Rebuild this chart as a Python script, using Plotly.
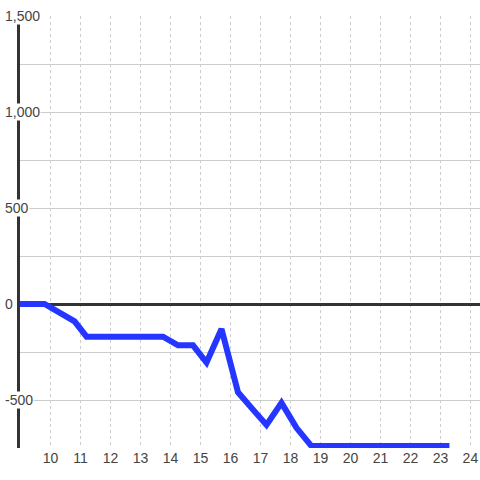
import plotly.graph_objects as go

# hours of the day and running balance
hours = [8.9, 9.8, 10.8, 11.2, 13.75, 14.25, 14.75, 15.2, 15.7, 16.25, 16.75, 17.2, 17.7, 18.2, 18.7, 23.3]
balance = [0, 0, -90, -170, -170, -215, -215, -305, -130, -460, -550, -630, -515, -645, -740, -740]

x_ticks = list(range(10, 25))
y_ticks = [-500, 0, 500, 1000, 1500]
y_tick_text = ['-500', '0', '500', '1,000', '1,500']

fig = go.Figure()
fig.add_trace(go.Scatter(
    x=hours, y=balance, mode='lines',
    line=dict(color='#2436ff', width=6),
    hoverinfo='skip', showlegend=False
))

# y tick labels as annotations so they sit on top of the axis line
for v, t in zip(y_ticks, y_tick_text):
    fig.add_annotation(
        x=-0.035, xref='paper', y=v, yref='y', text=t,
        showarrow=False, xanchor='left', yanchor='middle',
        bgcolor='white', borderpad=0,
        font=dict(size=14, color='#444')
    )

fig.update_xaxes(
    range=[8.98, 24.32], tickvals=x_ticks, ticks='',
    showgrid=True, gridcolor='#cccccc', griddash='dot', gridwidth=1,
    showline=False, zeroline=False,
    tickfont=dict(size=14, color='#444')
)
fig.update_yaxes(
    range=[-750, 1500], tickvals=[-750, -500, -250, 0, 250, 500, 750, 1000, 1250, 1500],
    showticklabels=False, ticks='',
    showgrid=True, gridcolor='#cccccc', gridwidth=1,
    showline=True, linecolor='#333333', linewidth=3,
    zeroline=True, zerolinecolor='#333333', zerolinewidth=3
)
fig.update_layout(
    width=480, height=480,
    margin=dict(l=20, r=0, t=16, b=32),
    paper_bgcolor='white', plot_bgcolor='white',
    font=dict(family='Liberation Sans, Arial, sans-serif', color='#444'),
    showlegend=False
)

# drop the default page margin so the figure sits at the window's corner
fig.write_html("out.html", config={'displayModeBar': False},
               post_script="document.body.style.margin='0';")
